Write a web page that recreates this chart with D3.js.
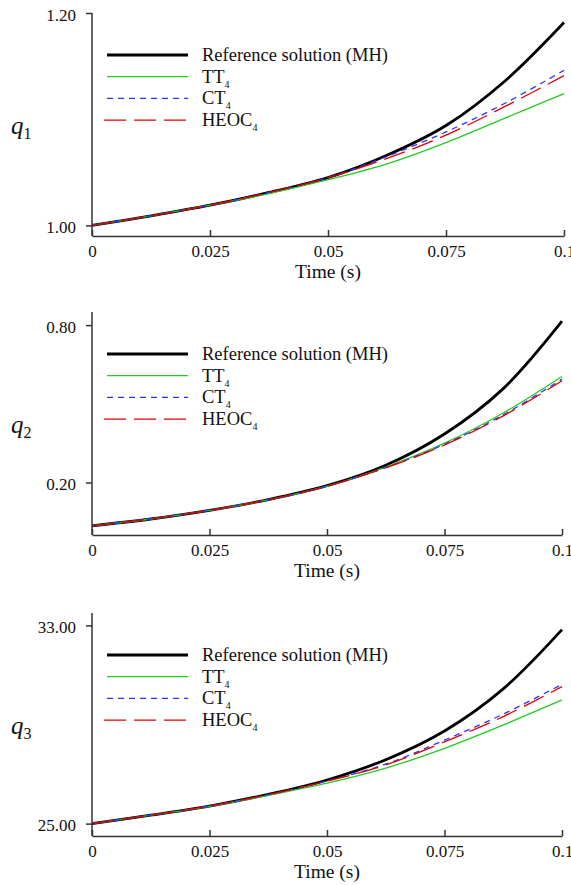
<!DOCTYPE html>
<html>
<head>
<meta charset="utf-8">
<script src="https://cdn.jsdelivr.net/npm/d3@7"></script>
<style>
  body { margin: 0; background: #fff; }
  svg { display: block; font-family: "Liberation Serif", "Times New Roman", serif; }
</style>
</head>
<body>
<script>
// sample times (s)
const times = [0, 0.0125, 0.025, 0.0375, 0.05, 0.0625, 0.075, 0.0875, 0.1];
const timeTicks = [0, 0.025, 0.05, 0.075, 0.1];
const timeTickLabels = ["0", "0.025", "0.05", "0.075", "0.1"];

// q1
const q1Ref = [1.000, 1.009, 1.019, 1.031, 1.045, 1.066, 1.094, 1.136, 1.191];
const q1TT = [1.000, 1.009, 1.019, 1.030, 1.043, 1.058, 1.078, 1.101, 1.124];
const q1CT = [1.000, 1.009, 1.019, 1.031, 1.045, 1.065, 1.088, 1.115, 1.146];
const q1HEOC = [1.000, 1.009, 1.019, 1.031, 1.045, 1.063, 1.085, 1.112, 1.141];

// q2
const q2Ref = [0.035, 0.061, 0.094, 0.135, 0.188, 0.266, 0.385, 0.558, 0.815];
const q2TT = [0.035, 0.061, 0.094, 0.134, 0.186, 0.259, 0.350, 0.465, 0.604];
const q2CT = [0.035, 0.061, 0.094, 0.134, 0.186, 0.257, 0.346, 0.458, 0.594];
const q2HEOC = [0.035, 0.061, 0.094, 0.134, 0.186, 0.256, 0.343, 0.454, 0.588];

// q3
const q3Ref = [25.00, 25.34, 25.71, 26.18, 26.76, 27.58, 28.74, 30.44, 32.83];
const q3TT = [25.00, 25.34, 25.70, 26.14, 26.63, 27.24, 28.04, 28.98, 29.99];
const q3CT = [25.00, 25.34, 25.71, 26.17, 26.72, 27.40, 28.37, 29.42, 30.62];
const q3HEOC = [25.00, 25.34, 25.71, 26.17, 26.71, 27.37, 28.30, 29.32, 30.53];

const seriesNames = ["Reference solution (MH)", "TT", "CT", "HEOC"];
const seriesSubs = ["", "4", "4", "4"];

const panels = [
  { label: "1", series: [q1Ref, q1TT, q1CT, q1HEOC], domain: [0.99, 1.2], ticks: [1.0, 1.2] },
  { label: "2", series: [q2Ref, q2TT, q2CT, q2HEOC], domain: [0, 0.85], ticks: [0.2, 0.8] },
  { label: "3", series: [q3Ref, q3TT, q3CT, q3HEOC], domain: [24.5, 33.5], ticks: [25, 33] },
];

const styles = [
  { color: "#000000", width: 2.8, dash: null },
  { color: "#22cc22", width: 1.3, dash: null },
  { color: "#3030ff", width: 1.3, dash: "6,5" },
  { color: "#dd0000", width: 1.3, dash: "22,8" },
];
const drawOrder = [0, 1, 2, 3];

const width = 571, height = 885;
const left = 92;
const tops = [13, 312, 613];
const rights = [564, 562, 562];
const plotH = 223;

const svg = d3.select("body").append("svg")
  .attr("width", width)
  .attr("height", height);

panels.forEach((p, k) => {
  const top = tops[k], bottom = top + plotH;
  const x = d3.scaleLinear().domain([0, 0.1]).range([left, rights[k]]);
  const y = d3.scaleLinear().domain(p.domain).range([bottom, top]);

  const g = svg.append("g");

  // curves
  const line = d3.line()
    .x((d, i) => x(times[i]))
    .y(d => y(d))
    .curve(d3.curveCatmullRom.alpha(0.5));

  drawOrder.forEach(s => {
    g.append("path")
      .datum(p.series[s])
      .attr("fill", "none")
      .attr("stroke", styles[s].color)
      .attr("stroke-width", styles[s].width)
      .attr("stroke-dasharray", styles[s].dash)
      .attr("d", line);
  });

  // axes
  const yAxis = g.append("g")
    .attr("transform", `translate(${left},0)`)
    .call(d3.axisLeft(y).tickValues(p.ticks).tickFormat(d3.format(".2f"))
      .tickSize(6).tickSizeOuter(0).tickPadding(10));
  const xAxis = g.append("g")
    .attr("transform", `translate(0,${bottom})`)
    .call(d3.axisBottom(x).tickValues(timeTicks).tickFormat((d, i) => timeTickLabels[i])
      .tickSize(-6).tickSizeOuter(0).tickPadding(9));

  [yAxis, xAxis].forEach(a => {
    a.attr("font-family", null).attr("font-size", 17);
    a.select(".domain").attr("stroke", "#333").attr("stroke-width", 1.5);
    a.selectAll(".tick line").attr("stroke", "#333").attr("stroke-width", 1.5);
    a.selectAll(".tick text").attr("fill", "#111");
  });
  yAxis.selectAll(".tick text").attr("dy", "0.42em");
  // make the y axis reach the x axis
  yAxis.select(".domain").attr("d", `M0,${bottom}V${top}`);

  g.append("text")
    .attr("x", (left + rights[k]) / 2)
    .attr("y", bottom + 42)
    .attr("text-anchor", "middle")
    .attr("font-size", 19.5)
    .attr("fill", "#111")
    .text("Time (s)");

  // y label
  const yl = g.append("text")
    .attr("x", 11)
    .attr("y", top + 121)
    .attr("fill", "#111");
  yl.append("tspan").attr("font-style", "italic").attr("font-size", 25).text("q");
  yl.append("tspan").attr("font-size", 16).attr("dy", 5).text(p.label);

  // legend
  seriesNames.forEach((name, s) => {
    const ly = top + 42 + s * 21.7;
    g.append("line")
      .attr("x1", s === 3 ? 104 : 107).attr("x2", 188)
      .attr("y1", ly).attr("y2", ly)
      .attr("stroke", styles[s].color)
      .attr("stroke-width", styles[s].width)
      .attr("stroke-dasharray", styles[s].dash);
    const t = g.append("text")
      .attr("x", 202)
      .attr("y", ly + 6)
      .attr("font-size", 18.5)
      .attr("fill", "#111");
    t.append("tspan").text(name);
    if (seriesSubs[s]) {
      t.append("tspan").attr("font-size", 10).attr("dy", 5).text(seriesSubs[s]);
    }
  });
});
</script>
</body>
</html>
